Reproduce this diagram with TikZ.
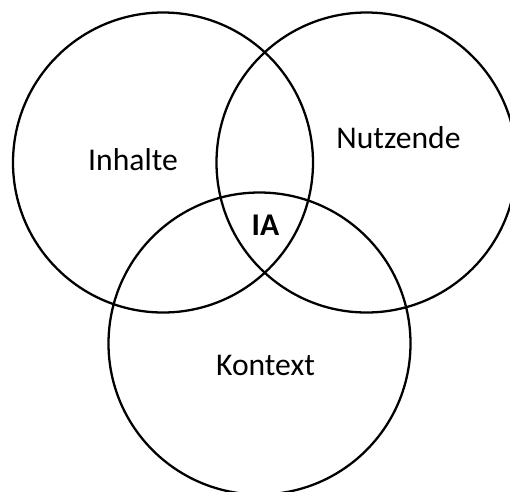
\documentclass[tikz,border=0pt]{standalone}
\usepackage{fontspec}
\setmainfont{Carlito}
\tikzset{
  venn/.style={line width=1.3pt},
  setlabel/.style={anchor=base, inner sep=0pt, font=\fontsize{18}{21}\selectfont},
}
\begin{document}
\begin{tikzpicture}[x=0.02cm, y=-0.02cm]
            \useasboundingbox (0,0) rectangle (510,491);
            \clip (0,0) rectangle (510,491);
            
            % Drawing circle Inhalte
            \draw [venn] (163,162.5) circle (150);%
            
            % Drawing circle Nutzende
            \draw [venn] (366.5,162.5) circle (150);%
            
            % Drawing circle Kontext
            \draw [venn] (259.5,343.5) circle (151);%
            
            % Marking the set names
            \node [setlabel] (inhalte) at (133,170) {Inhalte};%
            \node [setlabel] (nutzende) at (398.5,148) {Nutzende};%
            \node [setlabel] (kontext) at (265.5,375) {Kontext};%
            
            % Marking the common part
            \node [setlabel, font=\fontsize{18}{21}\selectfont\bfseries] (ia) at (265.5,235) {IA};%
        \end{tikzpicture}
\end{document}
